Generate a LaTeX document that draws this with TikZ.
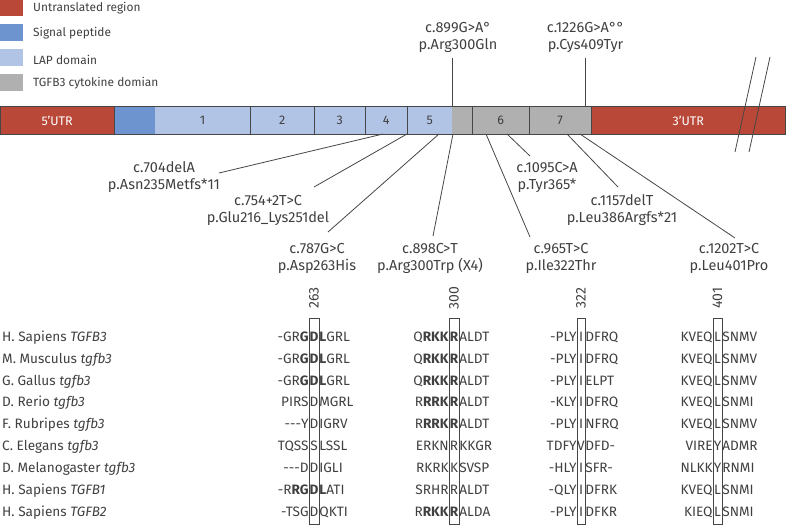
\documentclass[tikz,border=0pt]{standalone}
\usepackage{fontspec}
\setmainfont{Fira Sans}
\definecolor{utr}{RGB}{185,72,56}
\definecolor{sig}{RGB}{110,148,208}
\definecolor{lap}{RGB}{178,196,230}
\definecolor{cyt}{RGB}{176,176,176}
\definecolor{txt}{RGB}{64,64,64}
\definecolor{edge}{RGB}{70,70,70}
\newcommand\sq[7]{%
  \node[seq,anchor=base,minimum width=#7] (#1m) at (#2,#3) {#5};
  \node[seq,anchor=base east] (#1l) at (#1m.base west) {#4};
  \node[seq,anchor=base west] (#1r) at (#1m.base east) {#6};}
\newcommand\hy{-\kern0pt}
\begin{document}
\begin{tikzpicture}[x=1pt,y=-1pt,
  every node/.style={text=txt},
  conn/.style={draw=edge, line width=0.8pt},
  lbl/.style={align=center, inner sep=0, font=\fontsize{14.5}{17}\selectfont},
  seq/.style={inner sep=0, font=\fontsize{13.6}{14}\selectfont},
  spec/.style={inner sep=0, anchor=base west, font=\fontsize{13.6}{14}\selectfont},
  legbox/.style={minimum width=23pt, minimum height=17pt, inner sep=0, draw=none},
  legtxt/.style={anchor=west, inner sep=0, font=\fontsize{11.9}{13}\selectfont},
  seg/.style={minimum height=27pt, inner sep=0, anchor=west, draw=none, font=\fontsize{12.5}{14}\selectfont},
  poslabel/.style={rotate=90, inner sep=0, font=\fontsize{14}{14}\selectfont},
  colbox/.style={draw=edge, line width=0.8pt, minimum height=206pt, inner sep=0},
]
\useasboundingbox (0,0) rectangle (786,526);

% legend
\node[legbox, fill=utr] (lg1) at (11.5,8) {};
\node[legbox, fill=sig] (lg2) at (11.5,33) {};
\node[legbox, fill=lap] (lg3) at (11.5,58) {};
\node[legbox, fill=cyt] (lg4) at (11.5,83) {};
\node[legtxt] (lt1) at (33,8) {Untranslated region};
\node[legtxt] (lt2) at (33,33) {Signal peptide};
\node[legtxt] (lt3) at (33,60) {LAP domain};
\node[legtxt] (lt4) at (33,83) {TGFB3 cytokine domian};

% gene bar
\node[seg, fill=utr, minimum width=114pt, text=white] (s0) at (0,120.5) {5'UTR};
\node[seg, fill=sig, minimum width=41pt] (sp) at (114,120.5) {};
\node[seg, fill=lap, minimum width=95pt] (e1) at (155,120.5) {1};
\node[seg, fill=lap, minimum width=64pt] (e2) at (250,120.5) {2};
\node[seg, fill=lap, minimum width=51pt] (e3) at (314,120.5) {3};
\node[seg, fill=lap, minimum width=42pt] (e4) at (365,120.5) {4};
\node[seg, fill=lap, minimum width=45pt] (e5) at (407,120.5) {5};
\node[seg, fill=cyt, minimum width=20pt] (gc) at (452,120.5) {};
\node[seg, fill=cyt, minimum width=57pt] (e6) at (472,120.5) {6};
\node[seg, fill=cyt, minimum width=62pt] (e7) at (529,120.5) {7};
\node[seg, fill=utr, minimum width=194pt, text=white] (s3) at (591,120.5) {3'UTR};
\foreach \n in {sp,e2,e3,e4,e5,e6,e7,s3}
  \draw[conn] (\n.north west) -- (\n.south west);
\draw[conn] (s0.north west) rectangle (s3.south east);

% break marks
\coordinate (k1a) at (756,57); \coordinate (k1b) at (735,152);
\coordinate (k2a) at (770,57); \coordinate (k2b) at (749,152);
\draw[conn] (k1a) -- (k1b);
\draw[conn] (k2a) -- (k2b);

% top mutations
\node[lbl] (m1) at (458,37.5) {c.899G>A°\\p.Arg300Gln};
\node[lbl] (m2) at (585.5,37.5) {c.1226G>A°°\\p.Cys409Tyr};
\coordinate (m1e) at (452,58); \coordinate (m1b) at (452,107);
\coordinate (m2e) at (585,58); \coordinate (m2b) at (585,107);
\draw[conn] (m1e) -- (m1b);
\draw[conn] (m2e) -- (m2b);

% bottom mutations
\node[lbl] (b1) at (164,177) {c.704delA\\p.Asn235Metfs*11};
\node[lbl] (b2) at (268,210.5) {c.754+2T>C\\p.Glu216\_Lys251del};
\node[lbl] (b3) at (317,258.5) {c.787G>C\\p.Asp263His};
\node[lbl] (b4) at (430,258.5) {c.898C>T\\p.Arg300Trp (X4)};
\node[lbl] (b5) at (561,258.5) {c.965T>C\\p.Ile322Thr};
\node[lbl] (b6) at (547,177.5) {c.1095C>A\\p.Tyr365*};
\node[lbl] (b7) at (622,210.5) {c.1157delT\\p.Leu386Argfs*21};
\node[lbl] (b8) at (729,258.5) {c.1202T>C\\p.Leu401Pro};
\coordinate (b1e) at (219,173); \coordinate (b1b) at (383,134);
\coordinate (b2e) at (314,187); \coordinate (b2b) at (407,134);
\coordinate (b3e) at (328,232); \coordinate (b3b) at (439,134);
\coordinate (b4e) at (433,236); \coordinate (b4b) at (453,134);
\coordinate (b5e) at (530,237); \coordinate (b5b) at (486,134);
\coordinate (b6e) at (530,156); \coordinate (b6b) at (507,134);
\coordinate (b7e) at (618,187); \coordinate (b7b) at (567,134);
\coordinate (b8e) at (735,238); \coordinate (b8b) at (580,134);
\foreach \i in {1,...,8} \draw[conn] (b\i e) -- (b\i b);

% position labels and boxes
\node[poslabel] (p1) at (314,298) {263};
\node[poslabel] (p2) at (454,298) {300};
\node[poslabel] (p3) at (581,298) {322};
\node[poslabel] (p4) at (717.5,298) {401};
\node[colbox, minimum width=10pt] (x1) at (314,421) {};
\node[colbox, minimum width=10pt] (x2) at (454,421) {};
\node[colbox, minimum width=8pt] (x3) at (581,421) {};
\node[colbox, minimum width=9pt] (x4) at (717.5,421) {};

% species
\node[spec] (r1) at (2,341) {H. Sapiens \textit{TGFB3}};
\node[spec] (r2) at (2,363) {M. Musculus \textit{tgfb3}};
\node[spec] (r3) at (2,385) {G. Gallus \textit{tgfb3}};
\node[spec] (r4) at (2,406.5) {D. Rerio \textit{tgfb3}};
\node[spec] (r5) at (2,428.5) {F. Rubripes \textit{tgfb3}};
\node[spec] (r6) at (2,450.5) {C. Elegans \textit{tgfb3}};
\node[spec] (r7) at (2,472) {D. Melanogaster \textit{tgfb3}};
\node[spec] (r8) at (2,494) {H. Sapiens \textit{TGFB1}};
\node[spec] (r9) at (2,516) {H. Sapiens \textit{TGFB2}};

% column 263
\sq{a1}{314}{341}{-GR\textbf{G}}{\textbf{D}}{\textbf{L}GRL}{10pt}
\sq{a2}{314}{363}{-GR\textbf{G}}{\textbf{D}}{\textbf{L}GRL}{10pt}
\sq{a3}{314}{385}{-GR\textbf{G}}{\textbf{D}}{\textbf{L}GRL}{10pt}
\sq{a4}{314}{406.5}{PIRS}{D}{MGRL}{10pt}
\sq{a5}{314}{428.5}{\hy\hy\hy Y}{D}{IGRV}{10pt}
\sq{a6}{314}{450.5}{TQSS}{S}{LSSL}{10pt}
\sq{a7}{314}{472}{\hy\hy\hy D}{D}{IGLI}{10pt}
\sq{a8}{314}{494}{-R\textbf{RG}}{\textbf{D}}{\textbf{L}ATI}{10pt}
\sq{a9}{314}{516}{-TSG}{D}{QKTI}{10pt}
% column 300
\sq{c1}{454}{341}{Q\textbf{RKK}}{\textbf{R}}{ALDT}{10pt}
\sq{c2}{454}{363}{Q\textbf{RKK}}{\textbf{R}}{ALDT}{10pt}
\sq{c3}{454}{385}{Q\textbf{RKK}}{\textbf{R}}{ALDT}{10pt}
\sq{c4}{454}{406.5}{R\textbf{RRK}}{\textbf{R}}{ALDT}{10pt}
\sq{c5}{454}{428.5}{R\textbf{RRK}}{\textbf{R}}{ALDT}{10pt}
\sq{c6}{454}{450.5}{ERKN}{R}{KKGR}{10pt}
\sq{c7}{454}{472}{RKRK}{K}{SVSP}{10pt}
\sq{c8}{454}{494}{SRHR}{R}{ALDT}{10pt}
\sq{c9}{454}{516}{R\textbf{RKK}}{\textbf{R}}{ALDA}{10pt}
% column 322
\sq{d1}{581}{341}{-PLY}{I}{DFRQ}{8pt}
\sq{d2}{581}{363}{-PLY}{I}{DFRQ}{8pt}
\sq{d3}{581}{385}{-PLY}{I}{ELPT}{8pt}
\sq{d4}{581}{406.5}{-KLY}{I}{DFRQ}{8pt}
\sq{d5}{581}{428.5}{-PLY}{I}{NFRQ}{8pt}
\sq{d6}{581}{450.5}{TDFY}{V}{DFD-}{8pt}
\sq{d7}{581}{472}{-HLY}{I}{SFR-}{8pt}
\sq{d8}{581}{494}{-QLY}{I}{DFRK}{8pt}
\sq{d9}{581}{516}{-PLY}{I}{DFKR}{8pt}
% column 401
\sq{f1}{717.5}{341}{KVEQ}{L}{SNMV}{9pt}
\sq{f2}{717.5}{363}{KVEQ}{L}{SNMV}{9pt}
\sq{f3}{717.5}{385}{KVEQ}{L}{SNMV}{9pt}
\sq{f4}{717.5}{406.5}{KVEQ}{L}{SNMI}{9pt}
\sq{f5}{717.5}{428.5}{KVEQ}{L}{SNMV}{9pt}
\sq{f6}{717.5}{450.5}{VIRE}{Y}{ADMR}{9pt}
\sq{f7}{717.5}{472}{NLKK}{Y}{RNMI}{9pt}
\sq{f8}{717.5}{494}{KVEQ}{L}{SNMI}{9pt}
\sq{f9}{717.5}{516}{KIEQ}{L}{SNMI}{9pt}
\end{tikzpicture}
\end{document}
